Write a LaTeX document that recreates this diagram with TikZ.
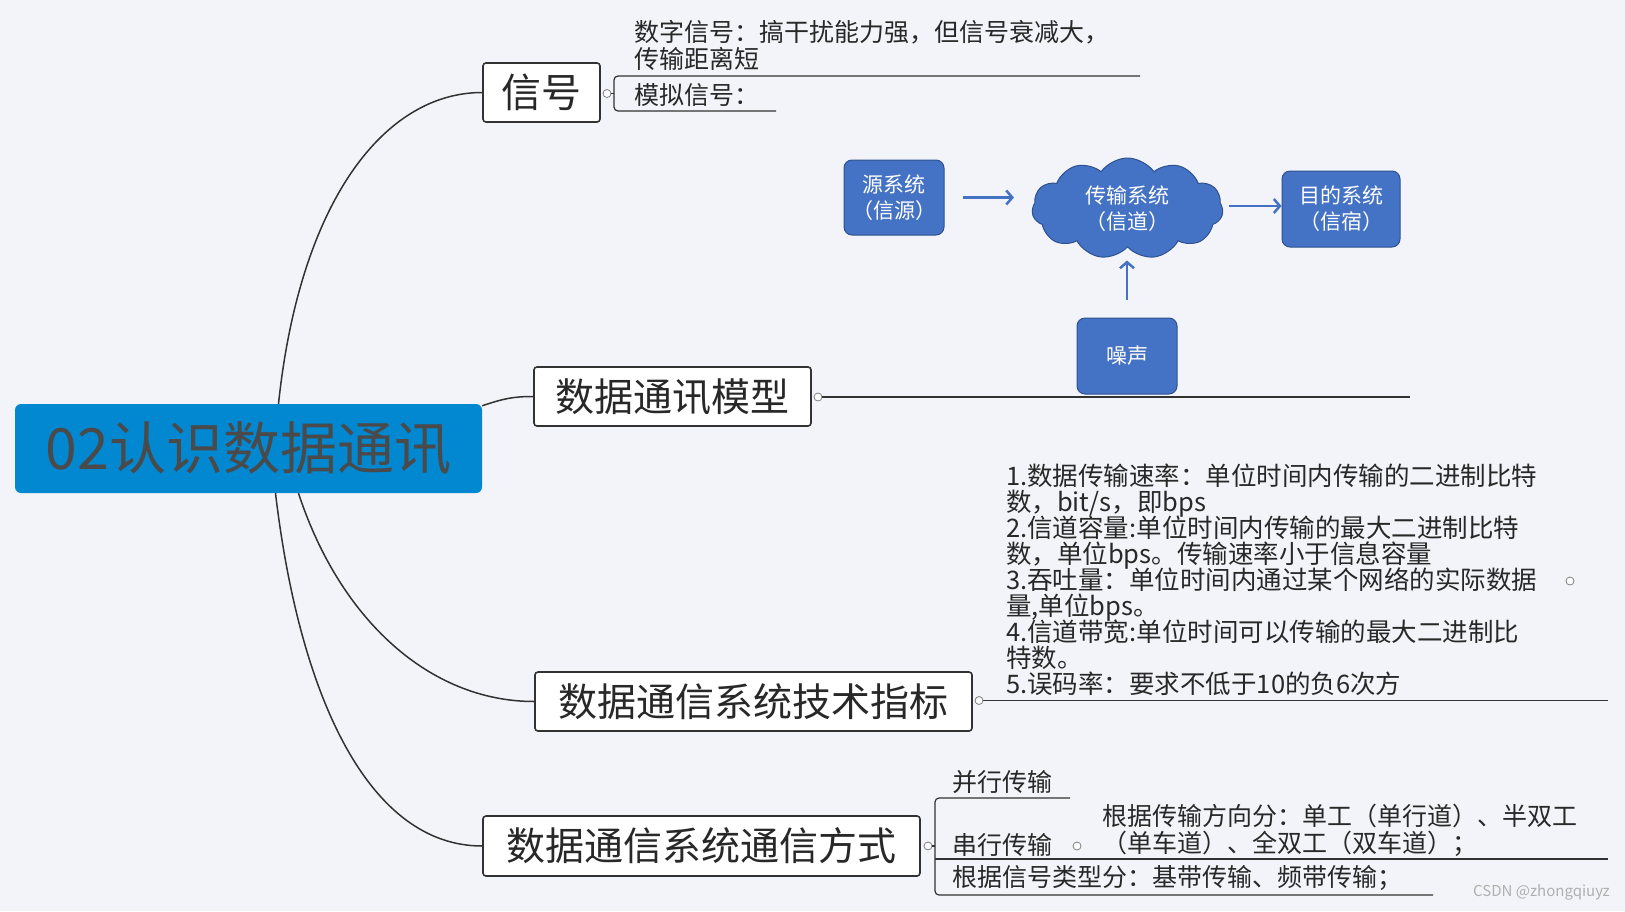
\documentclass[tikz,border=0pt]{standalone}
\usepackage{fontspec}
\setmainfont{Noto Sans CJK SC}
\usetikzlibrary{shapes.symbols,arrows.meta,calc}
\definecolor{bg}{RGB}{243,244,249}
\definecolor{rootblue}{RGB}{2,136,209}
\definecolor{roottext}{RGB}{74,74,74}
\definecolor{linec}{RGB}{50,50,50}
\definecolor{officeblue}{RGB}{68,114,196}
\definecolor{officeedge}{RGB}{47,82,143}
\definecolor{txt}{RGB}{40,40,40}
\definecolor{wm}{RGB}{175,175,175}
\lineskiplimit=-100pt
\lineskip=0pt
\begin{document}
\begin{tikzpicture}[x=1pt,y=-1pt,
  topic/.style={draw=linec,line width=1.6pt,fill=white,rounded corners=3pt,inner sep=0pt,font=\fontsize{39}{42}\selectfont,text=txt},
  bluebox/.style={draw=officeedge,line width=1pt,fill=officeblue,rounded corners=8pt,text=white,align=center,inner sep=0pt,font=\fontsize{21}{26}\selectfont},
  flow/.style={draw=officeblue,line width=2.5pt,-{Straight Barb[length=6pt,width=14pt]}},
  branch/.style={draw=linec,line width=1.5pt},
  knob/.style={circle,draw=gray,fill=white,line width=0.8pt,minimum size=8pt,inner sep=0pt},
  leaf/.style={inner sep=0pt,anchor=west,font=\fontsize{25}{27}\selectfont,text=txt},
  sub/.style={draw=linec,line width=1.2pt}
]
\fill[bg] (0,0) rectangle (1625,911);
\useasboundingbox (0,0) rectangle (1625,911);

% root and topics
\node[fill=rootblue,rounded corners=6pt,minimum width=467pt,minimum height=89pt,inner sep=0pt,text=roottext,font=\fontsize{57}{60}\selectfont] (root) at (248.5,448.5) {02认识数据通讯};
\node[topic,minimum width=117pt,minimum height=59pt,font=\fontsize{40}{42}\selectfont] (sig) at (541.5,92.5) {信号};
\node[topic,minimum width=277pt,minimum height=59pt] (model) at (672.5,396.5) {数据通讯模型};
\node[topic,minimum width=437pt,minimum height=59pt] (tech) at (753.5,701.5) {数据通信系统技术指标};
\node[topic,minimum width=437pt,minimum height=60pt] (mode) at (701.5,846) {数据通信系统通信方式};

\draw[branch] ([xshift=30pt]root.north) .. controls (300,200) and (385,92.5) .. (sig.west);
\draw[branch] ([yshift=-2pt]root.north east) .. controls (505,398) and (515,396.5) .. (model.west);
\draw[branch] ([xshift=50pt]root.south) .. controls (340,620) and (430,701.5) .. (tech.west);
\draw[branch] ([xshift=27pt]root.south) .. controls (300,700) and (370,846) .. (mode.west);

% signal
\node[knob] (sigk) at (607,93.5) {};
\coordinate (sigtop) at (1140,76);
\coordinate (sigbot) at (776,111);
\draw[sub,rounded corners=4pt] (sigtop) -- (614,76) -- (614,111) -- (sigbot);
\draw[sub] (sigk.east) -- (614,93.5);
\node[leaf,anchor=north west,align=left] (digital) at (634,20.5) {数字信号：搞干扰能力强，但信号衰减大，\\传输距离短};
\node[leaf] (analog) at (634,95) {模拟信号：};

% model
\node[knob] (modk) at (818,397) {};
\coordinate (modend) at (1410,397);
\draw[sub] (modk) -- (modend);
\node[bluebox,minimum width=100pt,minimum height=75pt] (src) at (894,197.5) {源系统\\（信源）};
\node[bluebox,cloud,cloud puffs=11,cloud puff arc=110,aspect=1.9,sharp corners,minimum width=191pt,minimum height=101pt] (chan) at (1127.5,208.5) {传输系统\\（信道）};
\node[bluebox,minimum width=118pt,minimum height=76pt] (dst) at (1341,209) {目的系统\\（信宿）};
\node[bluebox,minimum width=100pt,minimum height=76pt] (noise) at (1127,356) {噪声};
\draw[flow,shorten <=18pt,shorten >=18pt] (src.east) -- (src.east -| chan.west);
\draw[flow,shorten <=6pt] ([yshift=2.5pt]chan.east) -- ([yshift=2.5pt]chan.east -| dst.west);
\draw[flow,shorten <=18pt,shorten >=13pt] (noise.north) -- (noise.north |- chan.south);

% tech
\node[knob] (techk) at (979,700.5) {};
\coordinate (techend) at (1608,700.5);
\draw[sub] (techk) -- (techend);
\node[leaf,anchor=north west,align=left,font=\fontsize{25.5}{26}\selectfont] (metrics) at (1006,464) {1.数据传输速率：单位时间内传输的二进制比特\\数，bit/s，即bps\\2.信道容量:单位时间内传输的最大二进制比特\\数，单位bps。传输速率小于信息容量\\3.吞吐量：单位时间内通过某个网络的实际数据\\量,单位bps。\\4.信道带宽:单位时间可以传输的最大二进制比\\特数。\\5.误码率：要求不低于10的负6次方};
\node[knob] (metk) at (1570,581) {};

% mode
\node[knob] (modek) at (928,846) {};
\coordinate (partop) at (1070,798);
\coordinate (typebot) at (1433,895);
\coordinate (serend) at (1608,859);
\draw[sub,rounded corners=4pt] (partop) -- (935,798) -- (935,895) -- (typebot);
\draw[sub] (935,859) -- (serend);
\draw[sub] (modek) -- (935,846);
\node[leaf] (par) at (952,782) {并行传输};
\node[leaf] (ser) at (952,845) {串行传输};
\node[knob] (serk) at (1077,846) {};
\node[leaf,anchor=north west,align=left] (dir) at (1102,804) {根据传输方向分：单工（单行道）、半双工\\（单车道）、全双工（双车道）；};
\node[leaf] (type) at (952,878) {根据信号类型分：基带传输、频带传输；};

\node[font=\fontsize{15}{16}\selectfont,text=wm,anchor=east,inner sep=0pt] (wmark) at (1610,892) {CSDN @zhongqiuyz};
\end{tikzpicture}
\end{document}
